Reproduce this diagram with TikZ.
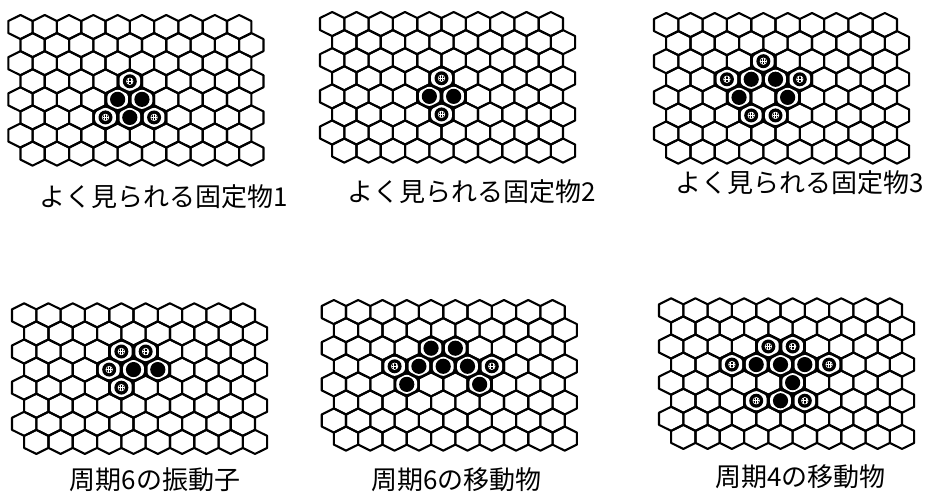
\documentclass[tikz,border=0pt]{standalone}
\usepackage{fontspec}
\setmainfont{Noto Sans CJK JP}
\begin{document}
\begin{tikzpicture}[x=1pt,y=-1pt,
  gridline/.style={draw=black,line width=2.1pt,line join=round},
  caption/.style={font=\fontsize{26}{30}\selectfont,inner sep=0pt,anchor=center}]
\def\hw{12.15}\def\hr{12.05}\def\rs{18.075}
\newcommand\cellxy[4]{%
  \pgfmathsetmacro\cx{#1+\hw+2*\hw*#4+mod(#3,2)*\hw}%
  \pgfmathsetmacro\cy{#2+\hr+\rs*#3}}
\newcommand\hexgrid[2]{%
  \foreach \rr in {0,...,7}{%
    \foreach \cc in {0,...,9}{%
      \cellxy{#1}{#2}{\rr}{\cc}%
      \draw[gridline] (\cx,\cy) ++(0,-\hr) -- ++(\hw,\hr/2) -- ++(0,\hr)
        -- ++(-\hw,\hr/2) -- ++(-\hw,-\hr/2) -- ++(0,-\hr) -- cycle;
    }}}
\newcommand\cellframe{%
  \fill[black] (\cx,\cy) ++(0,-\hr) -- ++(\hw,\hr/2) -- ++(0,\hr)
     -- ++(-\hw,\hr/2) -- ++(-\hw,-\hr/2) -- ++(0,-\hr) -- cycle;
  \fill[white,rounded corners=2.5pt] (\cx,\cy) ++(0,-10.2) -- ++(10.3,5.1) -- ++(0,10.2)
     -- ++(-10.3,5.1) -- ++(-10.3,-5.1) -- ++(0,-10.2) -- cycle;}
\newcommand\blackcell[4]{%
  \cellxy{#1}{#2}{#3}{#4}\cellframe
  \fill[black] (\cx,\cy) circle (7.6);}
\newcommand\dotcell[4]{%
  \cellxy{#1}{#2}{#3}{#4}\cellframe
  \fill[black] (\cx,\cy) circle (7.0);
  \draw[white,line width=0.6pt] (\cx,\cy) circle (3.3);
  \draw[white,line width=0.6pt] (\cx-1.2,\cy-3) -- (\cx-1.2,\cy+3)
     (\cx+1.2,\cy-3) -- (\cx+1.2,\cy+3) (\cx-3,\cy) -- (\cx+3,\cy);}
\useasboundingbox (0,0) rectangle (929,499);
\fill[white] (0,0) rectangle (929,499);
% Panel 1
\hexgrid{8.3}{15}
\dotcell{8.3}{15}{3}{4}
\blackcell{8.3}{15}{4}{4}\blackcell{8.3}{15}{4}{5}
\dotcell{8.3}{15}{5}{3}\blackcell{8.3}{15}{5}{4}\dotcell{8.3}{15}{5}{5}
\node[caption] (c1) at (163.5,197) {よく見られる固定物1};
% Panel 2
\hexgrid{320}{12}
\dotcell{320}{12}{3}{4}
\blackcell{320}{12}{4}{4}\blackcell{320}{12}{4}{5}
\dotcell{320}{12}{5}{4}
\node[caption] (c2) at (472,192) {よく見られる固定物2};
% Panel 3
\hexgrid{654}{13}
\dotcell{654}{13}{2}{4}
\dotcell{654}{13}{3}{2}\blackcell{654}{13}{3}{3}\blackcell{654}{13}{3}{4}\dotcell{654}{13}{3}{5}
\blackcell{654}{13}{4}{3}\blackcell{654}{13}{4}{5}
\dotcell{654}{13}{5}{3}\dotcell{654}{13}{5}{4}
\node[caption] (c3) at (800,183) {よく見られる固定物3};
% Panel 4
\hexgrid{12}{303.3}
\dotcell{12}{303.3}{2}{4}\dotcell{12}{303.3}{2}{5}
\dotcell{12}{303.3}{3}{3}\blackcell{12}{303.3}{3}{4}\blackcell{12}{303.3}{3}{5}
\dotcell{12}{303.3}{4}{4}
\node[caption] (c4) at (155,480) {周期6の振動子};
% Panel 5
\hexgrid{321.7}{300}
\blackcell{321.7}{300}{2}{4}\blackcell{321.7}{300}{2}{5}
\dotcell{321.7}{300}{3}{2}\blackcell{321.7}{300}{3}{3}\blackcell{321.7}{300}{3}{4}
\blackcell{321.7}{300}{3}{5}\dotcell{321.7}{300}{3}{6}
\blackcell{321.7}{300}{4}{3}\blackcell{321.7}{300}{4}{6}
\node[caption] (c5) at (456.5,480) {周期6の移動物};
% Panel 6
\hexgrid{659}{298.3}
\dotcell{659}{298.3}{2}{4}\dotcell{659}{298.3}{2}{5}
\dotcell{659}{298.3}{3}{2}\blackcell{659}{298.3}{3}{3}\blackcell{659}{298.3}{3}{4}
\blackcell{659}{298.3}{3}{5}\dotcell{659}{298.3}{3}{6}
\blackcell{659}{298.3}{4}{5}
\dotcell{659}{298.3}{5}{3}\blackcell{659}{298.3}{5}{4}\dotcell{659}{298.3}{5}{5}
\node[caption] (c6) at (800.5,477) {周期4の移動物};
\end{tikzpicture}
\end{document}
